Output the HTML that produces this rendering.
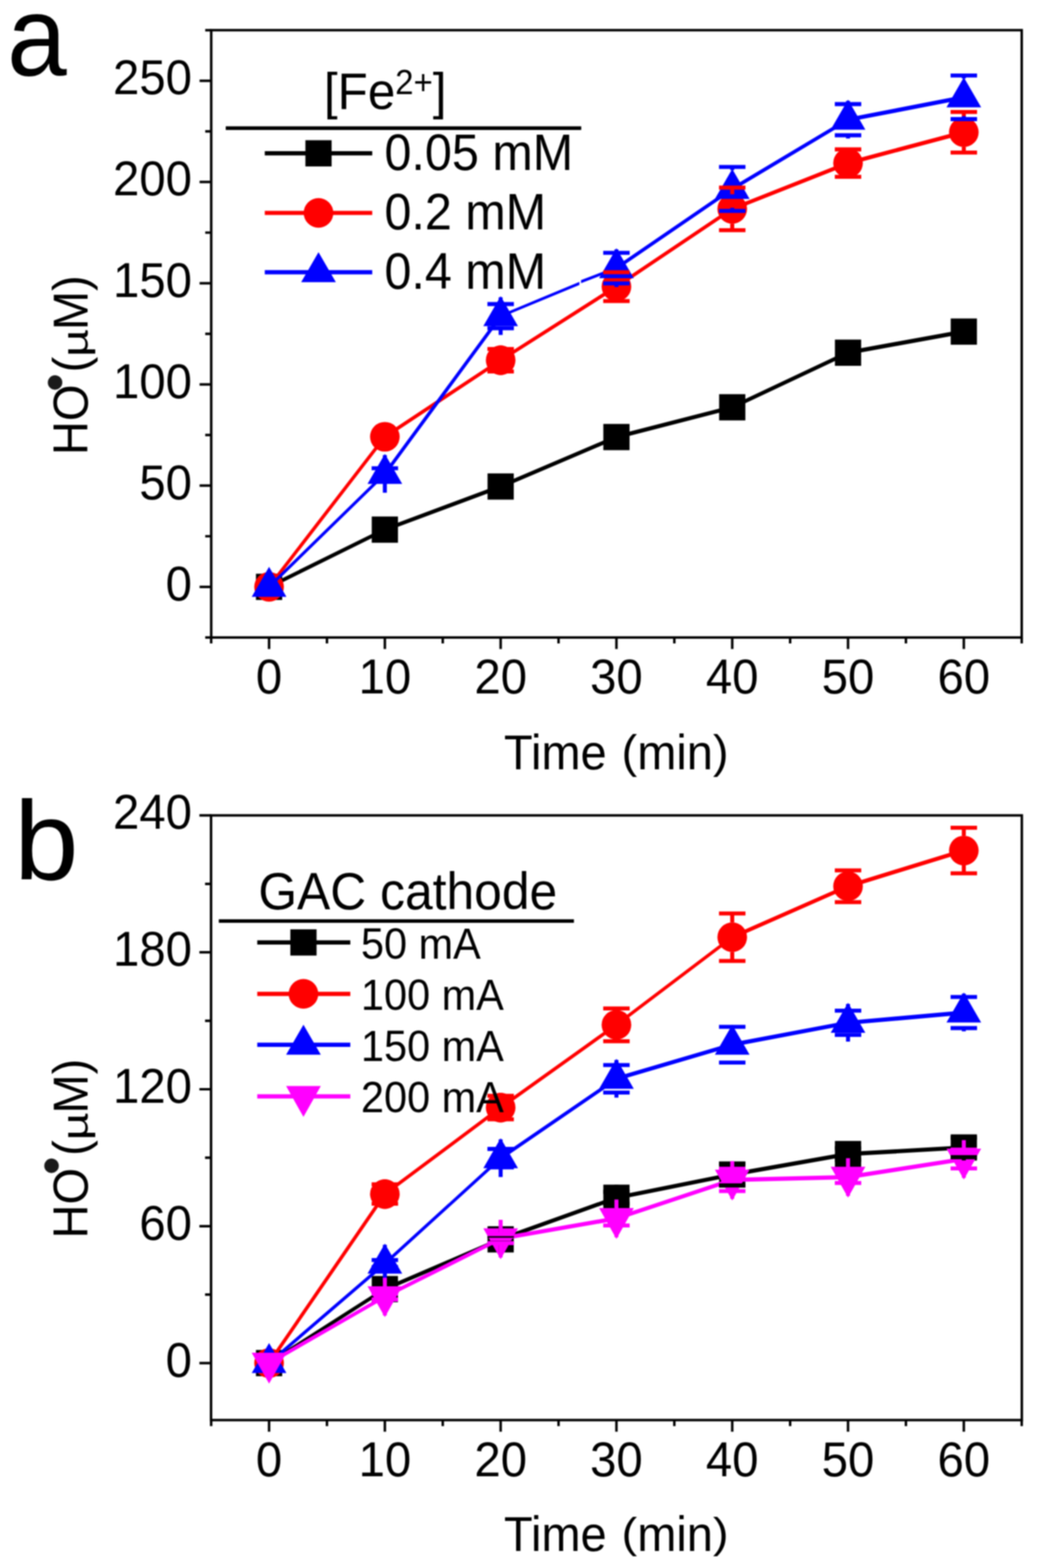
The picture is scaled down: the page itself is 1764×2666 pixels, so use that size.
<!DOCTYPE html>
<html lang="en"><head><meta charset="utf-8"><title>HO radical generation</title>
<style>
html,body{margin:0;padding:0;background:#fff;}
body{width:1764px;height:2666px;overflow:hidden;}
svg{display:block;filter:blur(1px);}
text{font-family:"Liberation Sans", Arial, Helvetica, sans-serif;}
</style></head><body>
<svg width="1764" height="2666" viewBox="0 0 1764 2666">
<rect width="1764" height="2666" fill="#fff"/>
<rect x="359.3" y="51.3" width="1378.7" height="1032.6" fill="none" stroke="#000" stroke-width="4.2"/>
<path d="M339.5 997.8H359.3M339.5 825.715H359.3M339.5 653.63H359.3M339.5 481.545H359.3M339.5 309.46H359.3M339.5 137.375H359.3M349.1 1083.842H359.3M349.1 911.757H359.3M349.1 739.672H359.3M349.1 567.587H359.3M349.1 395.502H359.3M349.1 223.417H359.3M349.1 51.332H359.3M457.7 1083.9V1103.6M654.67 1083.9V1103.6M851.64 1083.9V1103.6M1048.61 1083.9V1103.6M1245.58 1083.9V1103.6M1442.55 1083.9V1103.6M1639.52 1083.9V1103.6M359.215 1083.9V1094.1M556.185 1083.9V1094.1M753.155 1083.9V1094.1M950.125 1083.9V1094.1M1147.095 1083.9V1094.1M1344.065 1083.9V1094.1M1541.035 1083.9V1094.1M1738.005 1083.9V1094.1" stroke="#000" stroke-width="4.2" fill="none"/>
<text transform="translate(326.5 1020.8) scale(1 1.045)" font-size="80.5" text-anchor="end">0</text><text transform="translate(326.5 848.715) scale(1 1.045)" font-size="80.5" text-anchor="end">50</text><text transform="translate(326.5 676.63) scale(1 1.045)" font-size="80.5" text-anchor="end">100</text><text transform="translate(326.5 504.545) scale(1 1.045)" font-size="80.5" text-anchor="end">150</text><text transform="translate(326.5 332.46) scale(1 1.045)" font-size="80.5" text-anchor="end">200</text><text transform="translate(326.5 160.375) scale(1 1.045)" font-size="80.5" text-anchor="end">250</text><text transform="translate(457.7 1179.4) scale(1 1.045)" font-size="80.5" text-anchor="middle">0</text><text transform="translate(654.67 1179.4) scale(1 1.045)" font-size="80.5" text-anchor="middle">10</text><text transform="translate(851.64 1179.4) scale(1 1.045)" font-size="80.5" text-anchor="middle">20</text><text transform="translate(1048.61 1179.4) scale(1 1.045)" font-size="80.5" text-anchor="middle">30</text><text transform="translate(1245.58 1179.4) scale(1 1.045)" font-size="80.5" text-anchor="middle">40</text><text transform="translate(1442.55 1179.4) scale(1 1.045)" font-size="80.5" text-anchor="middle">50</text><text transform="translate(1639.52 1179.4) scale(1 1.045)" font-size="80.5" text-anchor="middle">60</text><text transform="translate(857.3 1308) scale(1 1.045)" font-size="80">Time </text><text transform="translate(1057.3 1305.21) scale(1 0.971)" font-size="80">(</text><text transform="translate(1083.94 1308) scale(1 1.045)" font-size="80">min</text><text transform="translate(1212.82 1305.21) scale(1 0.971)" font-size="80">)</text>
<g transform="translate(148.8 772.8) rotate(-90)"><text transform="scale(1 1.045)" font-size="80"><tspan x="-1" y="0">HO</tspan><tspan x="139.5" y="0">(</tspan><tspan x="211.5" y="0">M)</tspan></text><text transform="translate(166 0) scale(1 0.77)" font-size="82">µ</text></g>
<text transform="translate(92.6 650.3) rotate(-90)" font-size="91" fill="#1a1a1a" text-anchor="middle" dominant-baseline="central">•</text>
<text transform="translate(12.05 127.6) scale(1 1.06)" font-size="182.4">a</text>
<g fill="#000000"><polygon points="457.7,994.2 654.67,896.9 654.67,904.1 457.7,1001.4"/><polygon points="654.67,896.9 851.64,823.6 851.64,830.8 654.67,904.1"/><polygon points="851.64,823.6 1048.61,739.5 1048.61,746.7 851.64,830.8"/><polygon points="1048.61,739.5 1245.58,688.9 1245.58,696.1 1048.61,746.7"/><polygon points="1245.58,688.9 1442.55,596.1 1442.55,603.3 1245.58,696.1"/><polygon points="1442.55,596.1 1639.52,560.2 1639.52,567.4 1442.55,603.3"/></g>
<rect x="435.4" y="975.5" width="44.6" height="44.6" fill="#000000"/><rect x="632.37" y="878.2" width="44.6" height="44.6" fill="#000000"/><rect x="829.34" y="804.9" width="44.6" height="44.6" fill="#000000"/><rect x="1026.31" y="720.8" width="44.6" height="44.6" fill="#000000"/><rect x="1223.28" y="670.2" width="44.6" height="44.6" fill="#000000"/><rect x="1420.25" y="577.4" width="44.6" height="44.6" fill="#000000"/><rect x="1617.22" y="541.5" width="44.6" height="44.6" fill="#000000"/>
<g fill="#ff0000"><polygon points="454.1,997.8 461.3,997.8 658.27,742.6 651.07,742.6"/><polygon points="654.67,739 851.64,608.9 851.64,616.1 654.67,746.2"/><polygon points="851.64,608.9 1048.61,483.7 1048.61,490.9 851.64,616.1"/><polygon points="1048.61,483.7 1245.58,351.6 1245.58,358.8 1048.61,490.9"/><polygon points="1245.58,351.6 1442.55,273.7 1442.55,280.9 1245.58,358.8"/><polygon points="1442.55,273.7 1639.52,221.2 1639.52,228.4 1442.55,280.9"/></g>
<circle cx="457.7" cy="997.8" r="25.2" fill="#ff0000"/><circle cx="654.67" cy="742.6" r="25.2" fill="#ff0000"/><circle cx="851.64" cy="612.5" r="25.2" fill="#ff0000"/><circle cx="1048.61" cy="487.3" r="25.2" fill="#ff0000"/><circle cx="1245.58" cy="355.2" r="25.2" fill="#ff0000"/><circle cx="1442.55" cy="277.3" r="25.2" fill="#ff0000"/><circle cx="1639.52" cy="224.8" r="25.2" fill="#ff0000"/>
<g fill="#0000ff"><polygon points="457.7,994.2 654.67,802.1 654.67,809.3 457.7,1001.4"/><polygon points="651.07,805.7 658.27,805.7 855.24,537.5 848.04,537.5"/><polygon points="851.64,534.9 985.6,479.2 985.6,484.4 851.64,540.1"/><polygon points="988.4,476.2 1048.61,453.3 1048.61,458.5 988.4,481.4"/><polygon points="1048.61,452.3 1245.58,317.6 1245.58,324.8 1048.61,459.5"/><polygon points="1245.58,317.6 1442.55,199.9 1442.55,207.1 1245.58,324.8"/><polygon points="1442.55,199.9 1639.52,161.8 1639.52,169 1442.55,207.1"/></g>
<polygon points="457.7,963.8 428.2,1014.8 487.2,1014.8" fill="#0000ff"/><polygon points="654.67,771.7 625.17,822.7 684.17,822.7" fill="#0000ff"/><polygon points="851.64,503.5 822.14,554.5 881.14,554.5" fill="#0000ff"/><polygon points="1048.61,421.9 1019.11,472.9 1078.11,472.9" fill="#0000ff"/><polygon points="1245.58,287.2 1216.08,338.2 1275.08,338.2" fill="#0000ff"/><polygon points="1442.55,169.5 1413.05,220.5 1472.05,220.5" fill="#0000ff"/><polygon points="1639.52,131.4 1610.02,182.4 1669.02,182.4" fill="#0000ff"/>

<path d="M851.64 587.5V593.3M851.64 631.7V637.5M829.14 593.3H874.14M829.14 631.7H874.14" stroke="#ff0000" stroke-width="6.8" fill="none"/><path d="M1026.11 462.8H1071.11M1026.11 511.8H1071.11" stroke="#ff0000" stroke-width="6.8" fill="none"/><path d="M1245.58 319V330.2M1245.58 380.2V391.4M1223.08 319H1268.08M1223.08 391.4H1268.08" stroke="#ff0000" stroke-width="6.8" fill="none"/><path d="M1442.55 252.3V254M1442.55 300.6V302.3M1420.05 254H1465.05M1420.05 300.6H1465.05" stroke="#ff0000" stroke-width="6.8" fill="none"/><path d="M1639.52 190.3V199.8M1639.52 249.8V259.3M1617.02 190.3H1662.02M1617.02 259.3H1662.02" stroke="#ff0000" stroke-width="6.8" fill="none"/>
<path d="M654.67 773.7V796.2M654.67 815.2V837.7M632.17 796.2H677.17M632.17 815.2H677.17" stroke="#0000ff" stroke-width="6.8" fill="none"/><path d="M851.64 505.5V517M851.64 558V569.5M829.14 517H874.14M829.14 558H874.14" stroke="#0000ff" stroke-width="6.8" fill="none"/><path d="M1048.61 423.9V429.9M1048.61 481.9V487.9M1026.11 429.9H1071.11M1026.11 481.9H1071.11" stroke="#0000ff" stroke-width="6.8" fill="none"/><path d="M1245.58 283.8V289.2M1245.58 353.2V358.6M1223.08 283.8H1268.08M1223.08 358.6H1268.08" stroke="#0000ff" stroke-width="6.8" fill="none"/><path d="M1442.55 171.5V177M1442.55 230V235.5M1420.05 177H1465.05M1420.05 230H1465.05" stroke="#0000ff" stroke-width="6.8" fill="none"/><path d="M1639.52 128.3V133.4M1639.52 197.4V202.5M1617.02 128.3H1662.02M1617.02 202.5H1662.02" stroke="#0000ff" stroke-width="6.8" fill="none"/>
<text transform="translate(551 185) scale(1 1.045)" font-size="84">[Fe<tspan font-size="56" dy="-23.5">2+</tspan><tspan dy="23.5">]</tspan></text><path d="M384 217.8H988.7" stroke="#000" stroke-width="6.2"/><path d="M450.4 260.7H633.2" stroke="#000000" stroke-width="7.2"/><rect x="519.5" y="238.4" width="44.6" height="44.6" fill="#000000"/><text transform="translate(654 288.7) scale(1 1.045)" font-size="82.5">0.05 mM</text><path d="M450.4 362H633.2" stroke="#ff0000" stroke-width="7.2"/><circle cx="541.8" cy="362" r="25.2" fill="#ff0000"/><text transform="translate(654 390) scale(1 1.045)" font-size="82.5">0.2 mM</text><path d="M450.4 462.8H633.2" stroke="#0000ff" stroke-width="7.2"/><polygon points="541.8,428.8 512.3,479.8 571.3,479.8" fill="#0000ff"/><text transform="translate(654 490.8) scale(1 1.045)" font-size="82.5">0.4 mM</text>
<rect x="359" y="1386.4" width="1379.2" height="1028.1" fill="none" stroke="#000" stroke-width="4.2"/>
<path d="M339.2 2317.6H359M339.2 2084.8H359M339.2 1852H359M339.2 1619.2H359M339.2 1386.4H359M348.8 2201.2H359M348.8 1968.4H359M348.8 1735.6H359M348.8 1502.8H359M457.7 2414.5V2434.2M654.67 2414.5V2434.2M851.64 2414.5V2434.2M1048.61 2414.5V2434.2M1245.58 2414.5V2434.2M1442.55 2414.5V2434.2M1639.52 2414.5V2434.2M359.215 2414.5V2424.7M556.185 2414.5V2424.7M753.155 2414.5V2424.7M950.125 2414.5V2424.7M1147.095 2414.5V2424.7M1344.065 2414.5V2424.7M1541.035 2414.5V2424.7M1738.005 2414.5V2424.7" stroke="#000" stroke-width="4.2" fill="none"/>
<text transform="translate(326.5 2340.6) scale(1 1.045)" font-size="80.5" text-anchor="end">0</text><text transform="translate(326.5 2107.8) scale(1 1.045)" font-size="80.5" text-anchor="end">60</text><text transform="translate(326.5 1875) scale(1 1.045)" font-size="80.5" text-anchor="end">120</text><text transform="translate(326.5 1642.2) scale(1 1.045)" font-size="80.5" text-anchor="end">180</text><text transform="translate(326.5 1409.4) scale(1 1.045)" font-size="80.5" text-anchor="end">240</text><text transform="translate(457.7 2510) scale(1 1.045)" font-size="80.5" text-anchor="middle">0</text><text transform="translate(654.67 2510) scale(1 1.045)" font-size="80.5" text-anchor="middle">10</text><text transform="translate(851.64 2510) scale(1 1.045)" font-size="80.5" text-anchor="middle">20</text><text transform="translate(1048.61 2510) scale(1 1.045)" font-size="80.5" text-anchor="middle">30</text><text transform="translate(1245.58 2510) scale(1 1.045)" font-size="80.5" text-anchor="middle">40</text><text transform="translate(1442.55 2510) scale(1 1.045)" font-size="80.5" text-anchor="middle">50</text><text transform="translate(1639.52 2510) scale(1 1.045)" font-size="80.5" text-anchor="middle">60</text><text transform="translate(857.3 2636.7) scale(1 1.045)" font-size="80">Time </text><text transform="translate(1057.3 2631.06) scale(1 0.908)" font-size="80">(</text><text transform="translate(1083.94 2636.7) scale(1 1.045)" font-size="80">min</text><text transform="translate(1212.82 2631.06) scale(1 0.908)" font-size="80">)</text>
<g transform="translate(148.8 2104.8) rotate(-90)"><text transform="scale(1 1.045)" font-size="80"><tspan x="-1" y="0">HO</tspan><tspan x="139.5" y="0">(</tspan><tspan x="211.5" y="0">M)</tspan></text><text transform="translate(166 0) scale(1 0.77)" font-size="82">µ</text></g>
<text transform="translate(86.6 1982) rotate(-90)" font-size="91" fill="#1a1a1a" text-anchor="middle" dominant-baseline="central">•</text>
<text transform="translate(23.9 1496.3) scale(1 0.969)" font-size="197.2">b</text>
<g fill="#000000"><polygon points="457.7,2314 654.67,2188.2 654.67,2195.4 457.7,2321.2"/><polygon points="654.67,2188.2 851.64,2103.6 851.64,2110.8 654.67,2195.4"/><polygon points="851.64,2103.6 1048.61,2032.9 1048.61,2040.1 851.64,2110.8"/><polygon points="1048.61,2032.9 1245.58,1993.4 1245.58,2000.6 1048.61,2040.1"/><polygon points="1245.58,1993.4 1442.55,1958.6 1442.55,1965.8 1245.58,2000.6"/><polygon points="1442.55,1958.6 1639.52,1947.4 1639.52,1954.6 1442.55,1965.8"/></g>
<rect x="435.4" y="2295.3" width="44.6" height="44.6" fill="#000000"/><rect x="632.37" y="2169.5" width="44.6" height="44.6" fill="#000000"/><rect x="829.34" y="2084.9" width="44.6" height="44.6" fill="#000000"/><rect x="1026.31" y="2014.2" width="44.6" height="44.6" fill="#000000"/><rect x="1223.28" y="1974.7" width="44.6" height="44.6" fill="#000000"/><rect x="1420.25" y="1939.9" width="44.6" height="44.6" fill="#000000"/><rect x="1617.22" y="1928.7" width="44.6" height="44.6" fill="#000000"/>
<g fill="#ff0000"><polygon points="454.1,2317.6 461.3,2317.6 658.27,2030.2 651.07,2030.2"/><polygon points="654.67,2026.6 851.64,1879.6 851.64,1886.8 654.67,2033.8"/><polygon points="851.64,1879.6 1048.61,1738.9 1048.61,1746.1 851.64,1886.8"/><polygon points="1048.61,1738.9 1245.58,1589.9 1245.58,1597.1 1048.61,1746.1"/><polygon points="1245.58,1589.9 1442.55,1503.2 1442.55,1510.4 1245.58,1597.1"/><polygon points="1442.55,1503.2 1639.52,1442.5 1639.52,1449.7 1442.55,1510.4"/></g>
<circle cx="457.7" cy="2317.6" r="25.2" fill="#ff0000"/><circle cx="654.67" cy="2030.2" r="25.2" fill="#ff0000"/><circle cx="851.64" cy="1883.2" r="25.2" fill="#ff0000"/><circle cx="1048.61" cy="1742.5" r="25.2" fill="#ff0000"/><circle cx="1245.58" cy="1593.5" r="25.2" fill="#ff0000"/><circle cx="1442.55" cy="1506.8" r="25.2" fill="#ff0000"/><circle cx="1639.52" cy="1446.1" r="25.2" fill="#ff0000"/>
<g fill="#0000ff"><polygon points="457.7,2314 654.67,2144.8 654.67,2152 457.7,2321.2"/><polygon points="654.67,2144.8 851.64,1965.6 851.64,1972.8 654.67,2152"/><polygon points="851.64,1965.6 1048.61,1830.6 1048.61,1837.8 851.64,1972.8"/><polygon points="1048.61,1830.6 1245.58,1772.6 1245.58,1779.8 1048.61,1837.8"/><polygon points="1245.58,1772.6 1442.55,1735.4 1442.55,1742.6 1245.58,1779.8"/><polygon points="1442.55,1735.4 1639.52,1718 1639.52,1725.2 1442.55,1742.6"/></g>
<polygon points="457.7,2283.6 428.2,2334.6 487.2,2334.6" fill="#0000ff"/><polygon points="654.67,2114.4 625.17,2165.4 684.17,2165.4" fill="#0000ff"/><polygon points="851.64,1935.2 822.14,1986.2 881.14,1986.2" fill="#0000ff"/><polygon points="1048.61,1800.2 1019.11,1851.2 1078.11,1851.2" fill="#0000ff"/><polygon points="1245.58,1742.2 1216.08,1793.2 1275.08,1793.2" fill="#0000ff"/><polygon points="1442.55,1705 1413.05,1756 1472.05,1756" fill="#0000ff"/><polygon points="1639.52,1687.6 1610.02,1738.6 1669.02,1738.6" fill="#0000ff"/>
<g fill="#ff00ff"><polygon points="457.7,2314 654.67,2200.9 654.67,2208.1 457.7,2321.2"/><polygon points="654.67,2200.9 851.64,2102.4 851.64,2109.6 654.67,2208.1"/><polygon points="851.64,2102.4 1048.61,2068 1048.61,2075.2 851.64,2109.6"/><polygon points="1048.61,2068 1245.58,2002.6 1245.58,2009.8 1048.61,2075.2"/><polygon points="1245.58,2002.6 1442.55,1997.7 1442.55,2004.9 1245.58,2009.8"/><polygon points="1442.55,1997.7 1639.52,1967 1639.52,1974.2 1442.55,2004.9"/></g>
<polygon points="457.7,2352.6 428.2,2300.1 487.2,2300.1" fill="#ff00ff"/><polygon points="654.67,2239.5 625.17,2187 684.17,2187" fill="#ff00ff"/><polygon points="851.64,2141 822.14,2088.5 881.14,2088.5" fill="#ff00ff"/><polygon points="1048.61,2106.6 1019.11,2054.1 1078.11,2054.1" fill="#ff00ff"/><polygon points="1245.58,2041.2 1216.08,1988.7 1275.08,1988.7" fill="#ff00ff"/><polygon points="1442.55,2036.3 1413.05,1983.8 1472.05,1983.8" fill="#ff00ff"/><polygon points="1639.52,2005.6 1610.02,1953.1 1669.02,1953.1" fill="#ff00ff"/>
<path d="M851.64 2085.2V2101.2M851.64 2113.2V2129.2M829.14 2101.2H874.14M829.14 2113.2H874.14" stroke="#000000" stroke-width="6.8" fill="none"/><path d="M1048.61 2014.5V2026.5M1048.61 2046.5V2058.5M1026.11 2026.5H1071.11M1026.11 2046.5H1071.11" stroke="#000000" stroke-width="6.8" fill="none"/><path d="M1245.58 1975V1978.5M1245.58 2015.5V2019M1223.08 1978.5H1268.08M1223.08 2015.5H1268.08" stroke="#000000" stroke-width="6.8" fill="none"/><path d="M1442.55 1940.2V1952.2M1442.55 1972.2V1984.2M1420.05 1952.2H1465.05M1420.05 1972.2H1465.05" stroke="#000000" stroke-width="6.8" fill="none"/><path d="M1639.52 1929V1934.5M1639.52 1967.5V1973M1617.02 1934.5H1662.02M1617.02 1967.5H1662.02" stroke="#000000" stroke-width="6.8" fill="none"/>
<path d="M654.67 2005.2V2013.7M654.67 2046.7V2055.2M632.17 2013.7H677.17M632.17 2046.7H677.17" stroke="#ff0000" stroke-width="6.8" fill="none"/><path d="M851.64 1858.2V1863.2M851.64 1903.2V1908.2M829.14 1863.2H874.14M829.14 1903.2H874.14" stroke="#ff0000" stroke-width="6.8" fill="none"/><path d="M1048.61 1714.6V1717.5M1048.61 1767.5V1770.4M1026.11 1714.6H1071.11M1026.11 1770.4H1071.11" stroke="#ff0000" stroke-width="6.8" fill="none"/><path d="M1245.58 1553.1V1568.5M1245.58 1618.5V1633.9M1223.08 1553.1H1268.08M1223.08 1633.9H1268.08" stroke="#ff0000" stroke-width="6.8" fill="none"/><path d="M1442.55 1479.8V1481.8M1442.55 1531.8V1533.8M1420.05 1479.8H1465.05M1420.05 1533.8H1465.05" stroke="#ff0000" stroke-width="6.8" fill="none"/><path d="M1639.52 1407.3V1421.1M1639.52 1471.1V1484.9M1617.02 1407.3H1662.02M1617.02 1484.9H1662.02" stroke="#ff0000" stroke-width="6.8" fill="none"/>
<path d="M654.67 2116.4V2142.4M654.67 2154.4V2180.4M632.17 2142.4H677.17M632.17 2154.4H677.17" stroke="#0000ff" stroke-width="6.8" fill="none"/><path d="M851.64 1937.2V1953.5M851.64 1984.9V2001.2M829.14 1953.5H874.14M829.14 1984.9H874.14" stroke="#0000ff" stroke-width="6.8" fill="none"/><path d="M1048.61 1802.2V1810.8M1048.61 1857.6V1866.2M1026.11 1810.8H1071.11M1026.11 1857.6H1071.11" stroke="#0000ff" stroke-width="6.8" fill="none"/><path d="M1245.58 1744.2V1745.8M1245.58 1806.6V1808.2M1223.08 1745.8H1268.08M1223.08 1806.6H1268.08" stroke="#0000ff" stroke-width="6.8" fill="none"/><path d="M1442.55 1707V1718.4M1442.55 1759.6V1771M1420.05 1718.4H1465.05M1420.05 1759.6H1465.05" stroke="#0000ff" stroke-width="6.8" fill="none"/><path d="M1639.52 1689.6V1695.2M1639.52 1748V1753.6M1617.02 1695.2H1662.02M1617.02 1748H1662.02" stroke="#0000ff" stroke-width="6.8" fill="none"/>
<path d="M654.67 2172.5V2199.5M654.67 2209.5V2236.5M632.17 2199.5H677.17M632.17 2209.5H677.17" stroke="#ff00ff" stroke-width="6.8" fill="none"/><path d="M851.64 2074V2098.3M851.64 2113.7V2138M829.14 2098.3H874.14M829.14 2113.7H874.14" stroke="#ff00ff" stroke-width="6.8" fill="none"/><path d="M1048.61 2039.6V2059.6M1048.61 2083.6V2103.6M1026.11 2059.6H1071.11M1026.11 2083.6H1071.11" stroke="#ff00ff" stroke-width="6.8" fill="none"/><path d="M1245.58 1974.2V1987.2M1245.58 2025.2V2038.2M1223.08 1987.2H1268.08M1223.08 2025.2H1268.08" stroke="#ff00ff" stroke-width="6.8" fill="none"/><path d="M1442.55 1969.3V1991.3M1442.55 2011.3V2033.3M1420.05 1991.3H1465.05M1420.05 2011.3H1465.05" stroke="#ff00ff" stroke-width="6.8" fill="none"/><path d="M1639.52 1938.6V1954.6M1639.52 1986.6V2002.6M1617.02 1954.6H1662.02M1617.02 1986.6H1662.02" stroke="#ff00ff" stroke-width="6.8" fill="none"/>
<text transform="translate(439.5 1545.8) scale(1 1.045)" font-size="84.7">GAC cathode</text><path d="M372.2 1566H976.3" stroke="#000" stroke-width="6.2"/><path d="M437.6 1602.4H595.9" stroke="#000000" stroke-width="7.2"/><rect x="493.9" y="1580.1" width="44.6" height="44.6" fill="#000000"/><text transform="translate(614 1629.6) scale(1 1.045)" font-size="70.5">50 mA</text><path d="M437.6 1689.8H595.9" stroke="#ff0000" stroke-width="7.2"/><circle cx="516.2" cy="1689.8" r="25.2" fill="#ff0000"/><text transform="translate(614 1717) scale(1 1.045)" font-size="70.5">100 mA</text><path d="M437.6 1776.3H595.9" stroke="#0000ff" stroke-width="7.2"/><polygon points="516.2,1742.3 486.7,1793.3 545.7,1793.3" fill="#0000ff"/><text transform="translate(614 1803.5) scale(1 1.045)" font-size="70.5">150 mA</text><path d="M437.6 1864.1H595.9" stroke="#ff00ff" stroke-width="7.2"/><polygon points="516.2,1899.1 486.7,1846.6 545.7,1846.6" fill="#ff00ff"/><text transform="translate(614 1891.3) scale(1 1.045)" font-size="70.5">200 mA</text>
</svg>
</body></html>
